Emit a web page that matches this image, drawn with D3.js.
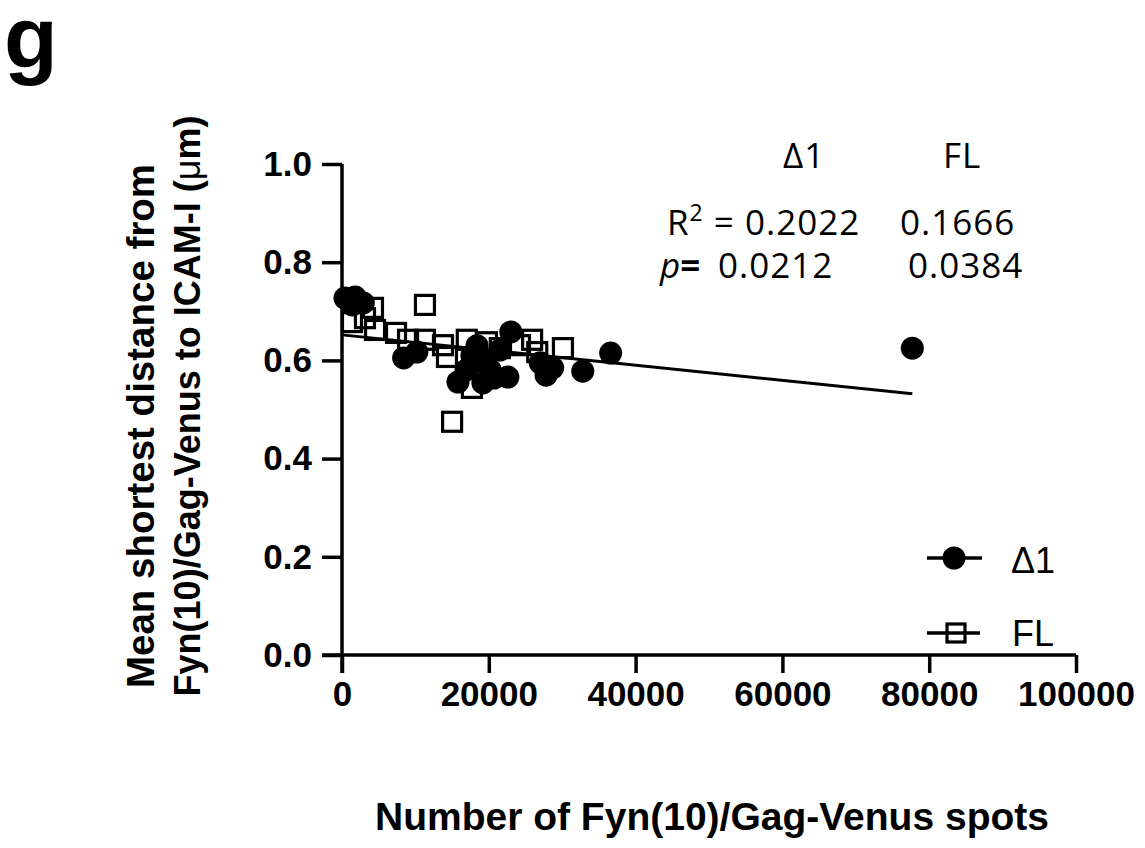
<!DOCTYPE html>
<html>
<head>
<meta charset="utf-8">
<script src="https://cdn.jsdelivr.net/npm/d3@7"></script>
<style>
  body { margin: 0; background: #fff; }
  svg { display: block; }
</style>
</head>
<body>
<svg id="chart" width="1145" height="848"></svg>
<script>
// Δ1 series (filled circles)
var d1X = [400, 1800, 1400, 2900, 8400, 10200, 15800, 16900, 17700, 17700, 18400, 19200, 19500, 20200, 20700, 21500, 22600, 23000, 27000, 27800, 28700, 32800, 36600, 77700];
var d1Y = [0.727, 0.729, 0.713, 0.717, 0.605, 0.617, 0.556, 0.58, 0.61, 0.595, 0.63, 0.554, 0.60, 0.58, 0.564, 0.621, 0.566, 0.658, 0.595, 0.570, 0.585, 0.578, 0.615, 0.625];

// FL series (open squares)
var flX = [1360, 3130, 4220, 4500, 7360, 9000, 11300, 11300, 13760, 14300, 15000, 17000, 17700, 19750, 21500, 24250, 25900, 26600, 30100];
var flY = [0.678, 0.686, 0.707, 0.662, 0.656, 0.642, 0.713, 0.642, 0.631, 0.607, 0.475, 0.642, 0.544, 0.637, 0.625, 0.631, 0.642, 0.617, 0.625];

// regression line
var fitX = [0, 77700];
var fitY = [0.652, 0.532];

var xTicks = [0, 20000, 40000, 60000, 80000, 100000];
var yTicks = [0.0, 0.2, 0.4, 0.6, 0.8, 1.0];

var svg = d3.select("#chart");

var x = d3.scaleLinear().domain([0, 100000]).range([342, 1076]);
var y = d3.scaleLinear().domain([0, 1]).range([655, 164]);

var bold = "'Liberation Sans', Arial, sans-serif";
var light = "'Open Sans', sans-serif";

// panel letter
svg.append("text").attr("x", 4).attr("y", 68)
    .style("font-family", bold).style("font-weight", "bold").style("font-size", "88px")
    .text("g");

// axes
var yAxis = d3.axisLeft(y).tickValues(yTicks).tickSize(20).tickPadding(10).tickSizeOuter(0)
    .tickFormat(d3.format(".1f"));
var gy = svg.append("g").attr("transform", "translate(" + x(0) + ",0)").call(yAxis);

var xAxis = d3.axisBottom(x).tickValues(xTicks).tickSize(18).tickPadding(8).tickSizeOuter(0)
    .tickFormat(d3.format("d"));
var gx = svg.append("g").attr("transform", "translate(0," + y(0) + ")").call(xAxis);

[gx, gy].forEach(function (g) {
    g.select(".domain").remove();
    g.selectAll("line").attr("stroke", "#000").attr("stroke-width", 3.5);
    g.selectAll("text").attr("fill", "#000")
        .style("font-family", bold).style("font-weight", "bold").style("font-size", "35px");
});
gy.selectAll("text").attr("x", -30);

svg.append("line")
    .attr("x1", x(0)).attr("x2", x(0)).attr("y1", y(1)).attr("y2", y(0) + 18)
    .attr("stroke", "#000").attr("stroke-width", 3.5);
svg.append("line")
    .attr("x1", x(0) - 20).attr("x2", x(100000)).attr("y1", y(0)).attr("y2", y(0))
    .attr("stroke", "#000").attr("stroke-width", 3.5);

// axis titles
svg.append("text").attr("x", 712).attr("y", 830).attr("text-anchor", "middle")
    .style("font-family", bold).style("font-weight", "bold").style("font-size", "39px")
    .text("Number of Fyn(10)/Gag-Venus spots");

svg.append("text").attr("transform", "translate(154,426) rotate(-90)").attr("text-anchor", "middle")
    .style("font-family", bold).style("font-weight", "bold").style("font-size", "38.5px")
    .text("Mean shortest distance from");

var t2 = svg.append("text").attr("transform", "translate(200,406) rotate(-90)").attr("text-anchor", "middle")
    .style("font-family", bold).style("font-weight", "bold").style("font-size", "36px");
t2.append("tspan").text("Fyn(10)/Gag-Venus to ICAM-I (");
t2.append("tspan").style("font-weight", "normal").text("\u03bc");
t2.append("tspan").text("m)");

// points
var d1 = d1X.map(function (v, i) { return [v, d1Y[i]]; });
var fl = flX.map(function (v, i) { return [v, flY[i]]; });

svg.selectAll(".sq").data(fl).enter().append("rect").attr("class", "sq")
    .attr("x", function (d) { return x(d[0]) - 9.5; })
    .attr("y", function (d) { return y(d[1]) - 9.5; })
    .attr("width", 19).attr("height", 19)
    .attr("fill", "none").attr("stroke", "#000").attr("stroke-width", 3.2);

svg.selectAll(".dot").data(d1).enter().append("circle").attr("class", "dot")
    .attr("cx", function (d) { return x(d[0]); })
    .attr("cy", function (d) { return y(d[1]); })
    .attr("r", 11.5).attr("fill", "#000");

// fit line
svg.append("path")
    .datum(fitX.map(function (v, i) { return [v, fitY[i]]; }))
    .attr("d", d3.line().x(function (d) { return x(d[0]); }).y(function (d) { return y(d[1]); }))
    .attr("stroke", "#000").attr("stroke-width", 3).attr("fill", "none");

// stats text
function stat(xp, yp, txt) {
    return svg.append("text").attr("x", xp).attr("y", yp)
        .style("font-family", light).style("font-size", "35px").style("letter-spacing", "1px")
        .text(txt);
}
stat(783, 168, "\u03941");
stat(943, 168, "FL");
var r2 = stat(667, 235, "R");
r2.append("tspan").attr("dy", -14).style("font-size", "23px").text("2");
r2.append("tspan").attr("dy", 14).text(" = 0.2022");
stat(900, 235, "0.1666");
var pp = svg.append("text").attr("x", 660).attr("y", 278)
    .style("font-family", light).style("font-size", "35px");
pp.append("tspan").style("font-style", "italic").text("p");
pp.append("tspan").style("font-weight", "bold").text("=");
stat(718, 278, "0.0212");
stat(908, 278, "0.0384");

// legend
var lg = svg.append("g");
lg.append("line").attr("x1", 927).attr("x2", 982).attr("y1", 558).attr("y2", 558)
    .attr("stroke", "#000").attr("stroke-width", 3.5);
lg.append("circle").attr("cx", 954).attr("cy", 558).attr("r", 11.5).attr("fill", "#000");
lg.append("text").attr("x", 1011).attr("y", 573)
    .style("font-family", bold).style("font-size", "36px").text("\u03941");

lg.append("line").attr("x1", 927).attr("x2", 980).attr("y1", 633).attr("y2", 633)
    .attr("stroke", "#000").attr("stroke-width", 3.5);
lg.append("rect").attr("x", 947).attr("y", 624).attr("width", 18).attr("height", 18)
    .attr("fill", "none").attr("stroke", "#000").attr("stroke-width", 3.2);
lg.append("text").attr("x", 1012).attr("y", 646)
    .style("font-family", bold).style("font-size", "36px").text("FL");
</script>
</body>
</html>
